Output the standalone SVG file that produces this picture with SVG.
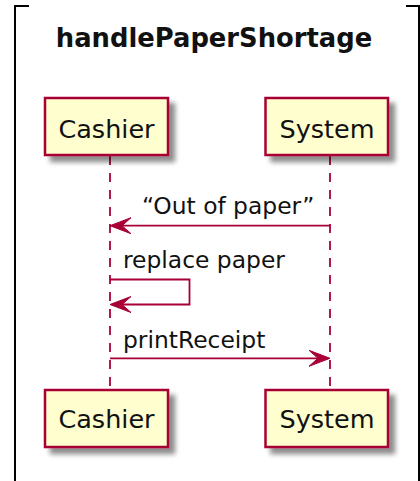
<svg xmlns="http://www.w3.org/2000/svg" width="420" height="481" viewBox="0 0 420 481">
<style>
.frame{stroke:#000;stroke-width:2;fill:none}
.box{fill:#FEFECE;stroke:#A80036;stroke-width:2.5}
.life{stroke:#A80036;stroke-width:1.8;stroke-dasharray:9,8;fill:none}
.msg{stroke:#A80036;stroke-width:1.8;fill:none}
.head{fill:#A80036;stroke:#A80036;stroke-width:1}
.ptxt{font-family:"DejaVu Sans",sans-serif;font-size:25.5px;fill:#111;text-anchor:middle}
.mtxt{font-family:"DejaVu Sans",sans-serif;font-size:23.4px;fill:#111}
.title{font-family:"DejaVu Sans",sans-serif;font-size:25.8px;font-weight:bold;fill:#111;text-anchor:middle}
</style>
<defs>
<filter id="sh" x="-20%" y="-20%" width="150%" height="160%">
<feGaussianBlur in="SourceAlpha" stdDeviation="2.5"/>
<feOffset dx="6" dy="6" result="b"/>
<feComponentTransfer><feFuncA type="linear" slope="0.45"/></feComponentTransfer>
<feMerge><feMergeNode/><feMergeNode in="SourceGraphic"/></feMerge>
</filter>
</defs>
<rect width="420" height="481" fill="#fff"/>
<g id="frame">
<line class="frame" x1="15" y1="5" x2="15" y2="481"/>
<line class="frame" x1="14" y1="6" x2="29" y2="6"/>
<line class="frame" x1="406" y1="6" x2="420" y2="6"/>
<line class="frame" x1="419" y1="5" x2="419" y2="481"/>
</g>
<text class="title" x="214" y="47">handlePaperShortage</text>
<g id="connectors">
<line class="life" x1="110" y1="156" x2="110" y2="390"/>
<line class="life" x1="330" y1="156" x2="330" y2="390"/>
<line class="msg" x1="112" y1="225.7" x2="330" y2="225.7"/>
<polygon class="head" points="110,225.7 131,217.7 122,225.7 131,233.7"/>
<text class="mtxt" x="142" y="214">“Out of paper”</text>
<polyline class="msg" points="110,279.5 189.5,279.5 189.5,304.5 112,304.5"/>
<polygon class="head" points="110,304.5 131,296.5 122,304.5 131,312.5"/>
<text class="mtxt" x="123" y="268">replace paper</text>
<line class="msg" x1="110" y1="358.3" x2="328" y2="358.3"/>
<polygon class="head" points="330,358.3 309,350.3 318,358.3 309,366.3"/>
<text class="mtxt" x="123" y="348">printReceipt</text>
</g>
<g id="cashier-top"><rect class="box" x="45" y="98" width="123" height="57" filter="url(#sh)"/><text class="ptxt" x="106.5" y="138">Cashier</text></g>
<g id="system-top"><rect class="box" x="265.5" y="98" width="122.5" height="57" filter="url(#sh)"/><text class="ptxt" x="327" y="138">System</text></g>
<g id="cashier-bottom"><rect class="box" x="45" y="390" width="123" height="57" filter="url(#sh)"/><text class="ptxt" x="106.5" y="428">Cashier</text></g>
<g id="system-bottom"><rect class="box" x="265.5" y="390" width="122.5" height="57" filter="url(#sh)"/><text class="ptxt" x="327" y="428">System</text></g>
</svg>
